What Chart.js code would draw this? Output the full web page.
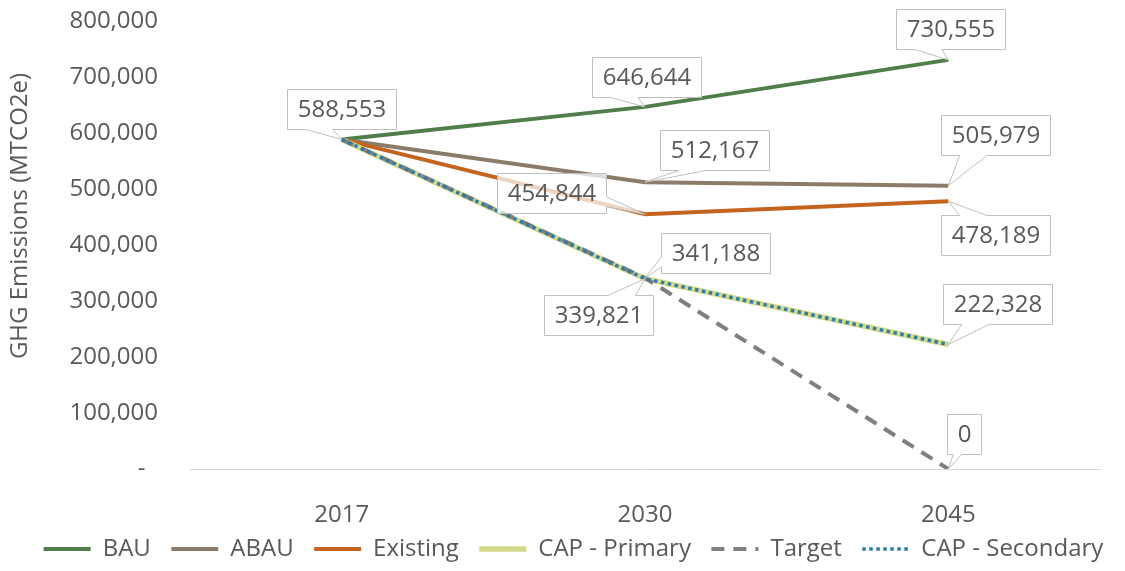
<!DOCTYPE html>
<html>
<head>
<meta charset="utf-8">
<script src="https://cdn.jsdelivr.net/npm/chart.js@4.4.1/dist/chart.umd.min.js"></script>
<style>
  html, body { margin: 0; padding: 0; background: #fff; }
  #wrap { width: 1125px; height: 571px; }
</style>
</head>
<body>
<div id="wrap"><canvas id="ghgChart"></canvas></div>
<script>
// --- data ---
const years = ['2017', '2030', '2045'];
const bau = [588553, 646644, 730555];
const abau = [588553, 512167, 505979];
const existing = [588553, 454844, 478189];
const capPrimary = [588553, 339821, 222328];
const target = [588553, 341188, 0];
const capSecondary = [588553, 339821, 222328];
const yTicks = [0, 100000, 200000, 300000, 400000, 500000, 600000, 700000, 800000];

// value boxes: which point gets one, and where the box sits from it (px)
const calloutSpots = [
    { ds: 0, i: 0, dx: 0, dy: -30 },
    { ds: 0, i: 1, dx: 1, dy: -30 },
    { ds: 0, i: 2, dx: 2, dy: -31 },
    { ds: 1, i: 1, dx: 69, dy: -32 },
    { ds: 1, i: 2, dx: 47, dy: -51 },
    { ds: 2, i: 1, dx: -94, dy: -21 },
    { ds: 2, i: 2, dx: 47, dy: 34 },
    { ds: 3, i: 1, dx: -47, dy: 36 },
    { ds: 3, i: 2, dx: 49, dy: -40 },
    { ds: 4, i: 1, dx: 70, dy: -25 },
    { ds: 4, i: 2, dx: 16, dy: -35 }
];

const FONT = "'Open Sans', sans-serif";
const TEXT = '#595959';
const fmt = v => v.toLocaleString('en-US');

// Excel style wedge callout: box + tail pointing at the data point
function drawCallout(ctx, bx, by, bw, bh, px, py) {
    const cx = bx + bw / 2, cy = by + bh / 2;
    const nx = (px - cx) / (bw / 2), ny = (py - cy) / (bh / 2);
    const x0 = bx, y0 = by, x1 = bx + bw, y1 = by + bh;
    ctx.beginPath();
    if (Math.abs(ny) >= Math.abs(nx)) {
        const a = px < cx ? bw * 2 / 12 : bw * 7 / 12;
        const b = px < cx ? bw * 5 / 12 : bw * 10 / 12;
        if (ny < 0) {
            ctx.moveTo(x0, y0); ctx.lineTo(x0 + a, y0); ctx.lineTo(px, py); ctx.lineTo(x0 + b, y0);
            ctx.lineTo(x1, y0); ctx.lineTo(x1, y1); ctx.lineTo(x0, y1);
        } else {
            ctx.moveTo(x0, y0); ctx.lineTo(x1, y0); ctx.lineTo(x1, y1); ctx.lineTo(x0 + b, y1);
            ctx.lineTo(px, py); ctx.lineTo(x0 + a, y1); ctx.lineTo(x0, y1);
        }
    } else {
        const a = py < cy ? bh * 2 / 12 : bh * 7 / 12;
        const b = py < cy ? bh * 5 / 12 : bh * 10 / 12;
        if (nx < 0) {
            ctx.moveTo(x0, y0); ctx.lineTo(x1, y0); ctx.lineTo(x1, y1); ctx.lineTo(x0, y1);
            ctx.lineTo(x0, y0 + b); ctx.lineTo(px, py); ctx.lineTo(x0, y0 + a);
        } else {
            ctx.moveTo(x0, y0); ctx.lineTo(x1, y0); ctx.lineTo(x1, y0 + a); ctx.lineTo(px, py);
            ctx.lineTo(x1, y0 + b); ctx.lineTo(x1, y1); ctx.lineTo(x0, y1);
        }
    }
    ctx.closePath();
    ctx.fillStyle = 'rgba(255,255,255,0.72)';
    ctx.fill();
    ctx.strokeStyle = '#BFBFBF';
    ctx.lineWidth = 1;
    ctx.stroke();
}

const calloutPlugin = {
    id: 'callouts',
    afterDatasetsDraw(chart) {
        const ctx = chart.ctx;
        ctx.save();
        ctx.font = '24px ' + FONT;
        calloutSpots.forEach(s => {
            const pt = chart.getDatasetMeta(s.ds).data[s.i];
            const txt = fmt(chart.data.datasets[s.ds].data[s.i]);
            const w = Math.round(ctx.measureText(txt).width + 20), h = 40;
            const bx = Math.round(pt.x + s.dx - w / 2) + 0.5;
            const by = Math.round(pt.y + s.dy - h / 2) + 0.5;
            drawCallout(ctx, bx, by, w, h, pt.x, pt.y);
            ctx.fillStyle = TEXT;
            ctx.textAlign = 'center';
            ctx.textBaseline = 'middle';
            ctx.fillText(txt, bx + w / 2, by + h / 2 + 1);
        });
        ctx.restore();
    }
};

// axis title sits a little above the plot's middle, as in the original
const yTitlePlugin = {
    id: 'yTitle',
    afterDraw(chart) {
        const ctx = chart.ctx;
        ctx.save();
        ctx.translate(20, 216);
        ctx.rotate(-Math.PI / 2);
        ctx.font = '24px ' + FONT;
        ctx.fillStyle = TEXT;
        ctx.textAlign = 'center';
        ctx.textBaseline = 'middle';
        ctx.fillText('GHG Emissions (MTCO2e)', 0, 0);
        ctx.restore();
    }
};

function lineSet(label, data, color, width, dash, order) {
    return {
        label, data,
        borderColor: color,
        backgroundColor: color,
        borderWidth: width,
        borderDash: dash || [],
        pointRadius: 0,
        pointHoverRadius: 0,
        tension: 0,
        fill: false,
        order
    };
}

new Chart(document.getElementById('ghgChart'), {
    type: 'line',
    data: {
        labels: years,
        datasets: [
            lineSet('BAU', bau, '#507E4B', 4, null, 5),
            lineSet('ABAU', abau, '#8B7C69', 4, null, 4),
            lineSet('Existing', existing, '#C3651F', 4, null, 3),
            lineSet('CAP - Primary', capPrimary, '#D5D98C', 5.5, null, 2),
            lineSet('Target', target, '#7F7F7F', 4, [13, 9], 1),
            lineSet('CAP - Secondary', capSecondary, '#2F7DA6', 3.5, [3.5, 3.5], 0)
        ]
    },
    options: {
        responsive: true,
        maintainAspectRatio: false,
        animation: false,
        devicePixelRatio: 1,
        layout: { padding: { left: 22, right: 0, top: 21, bottom: 0 } },
        plugins: {
            tooltip: { enabled: false },
            legend: {
                position: 'bottom',
                labels: {
                    font: { family: FONT, size: 24 },
                    color: TEXT,
                    usePointStyle: true,
                    pointStyle: 'line',
                    pointStyleWidth: 47,
                    padding: 8,
                    sort: (a, b) => a.datasetIndex - b.datasetIndex,
                    generateLabels: chart => {
                        const items = Chart.defaults.plugins.legend.labels.generateLabels(chart);
                        items.forEach(it => {
                            const ds = chart.data.datasets[it.datasetIndex];
                            it.pointStyle = 'line';
                            it.lineDash = ds.borderDash;
                            it.lineWidth = ds.borderWidth;
                            it.strokeStyle = ds.borderColor;
                            if (it.datasetIndex !== 5) it.text = it.text + '  ';
                        });
                        return items;
                    }
                }
            }
        },
        scales: {
            x: {
                offset: true,
                grid: { display: false, drawTicks: false },
                border: { display: true, color: '#D9D9D9', width: 1 },
                ticks: { font: { family: FONT, size: 24 }, color: TEXT, padding: 32 },
                afterFit: s => { s.height = 60; }
            },
            y: {
                min: 0,
                max: 800000,
                grid: { display: false, drawTicks: false },
                border: { display: false },
                afterBuildTicks: s => { s.ticks = yTicks.map(v => ({ value: v })); },
                ticks: {
                    font: { family: FONT, size: 24 },
                    color: TEXT,
                    padding: 32,
                    callback: v => v === 0 ? '-  ' : fmt(v)
                },
                afterFit: s => { s.width = 168; s.paddingTop = 0; s.paddingBottom = 0; }
            },
            // empty right-hand axis, only there to keep the plot clear of the right edge
            yRight: {
                position: 'right',
                grid: { display: false, drawTicks: false },
                border: { display: false },
                ticks: { display: false },
                afterFit: s => { s.width = 25; s.paddingTop = 0; s.paddingBottom = 0; }
            }
        }
    },
    plugins: [calloutPlugin, yTitlePlugin]
});
</script>
</body>
</html>
